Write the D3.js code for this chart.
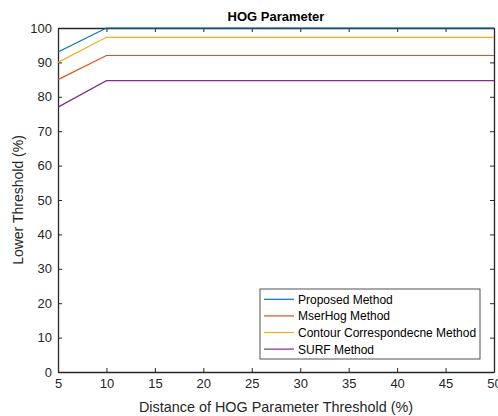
<!DOCTYPE html>
<html>
<head>
<meta charset="UTF-8">
<style>
  body { margin: 0; background: #fff; }
  text { font-family: "Liberation Sans", Arial, sans-serif; fill: #262626; }
  .axis path, .axis line { stroke: #262626; }
</style>
</head>
<body>
<svg id="chart" width="498" height="416"></svg>
<script src="https://d3js.org/d3.v7.min.js"></script>
<script>
// data
const xValues = [5, 10, 15, 20, 25, 30, 35, 40, 45, 50];
const proposed = [93, 100, 100, 100, 100, 100, 100, 100, 100, 100];
const mserHog = [85, 92, 92, 92, 92, 92, 92, 92, 92, 92];
const contour = [90, 97.3, 97.3, 97.3, 97.3, 97.3, 97.3, 97.3, 97.3, 97.3];
const surf = [77, 84.7, 84.7, 84.7, 84.7, 84.7, 84.7, 84.7, 84.7, 84.7];
const seriesNames = ["Proposed Method", "MserHog Method", "Contour Correspondecne Method", "SURF Method"];
const seriesColors = ["#0072BD", "#D95319", "#EDB120", "#7E2F8E"];
const xTicks = [5, 10, 15, 20, 25, 30, 35, 40, 45, 50];
const yTicks = [0, 10, 20, 30, 40, 50, 60, 70, 80, 90, 100];

const series = [proposed, mserHog, contour, surf];

let svg = d3.select("#chart");
let mLeft = 58, mRight = 494, mTop = 28, mBottom = 372;

let x = d3.scaleLinear().domain([5, 50]).range([mLeft, mRight]);
let y = d3.scaleLinear().domain([0, 100]).range([mBottom, mTop]);

// axes, MATLAB style with inward ticks and a box
svg.append("g").attr("class", "axis")
    .attr("transform", `translate(0,${mBottom})`)
    .call(d3.axisBottom(x).tickValues(xTicks).tickSizeInner(-4).tickSizeOuter(0).tickPadding(7))
    .call(g => g.selectAll("text").style("font-size", "13px"));
svg.append("g").attr("class", "axis")
    .attr("transform", `translate(${mLeft},0)`)
    .call(d3.axisLeft(y).tickValues(yTicks).tickSizeInner(-4).tickSizeOuter(0).tickPadding(6))
    .call(g => g.selectAll("text").style("font-size", "13px"));
svg.append("g").attr("class", "axis")
    .attr("transform", `translate(0,${mTop})`)
    .call(d3.axisTop(x).tickValues(xTicks).tickSizeInner(-4).tickSizeOuter(0).tickFormat(""));
svg.append("g").attr("class", "axis")
    .attr("transform", `translate(${mRight},0)`)
    .call(d3.axisRight(y).tickValues(yTicks).tickSizeInner(-4).tickSizeOuter(0).tickFormat(""));
svg.selectAll(".axis .domain").attr("stroke-width", 1.3);

// lines
let line = d3.line().x((d, i) => x(xValues[i])).y(d => y(d));
svg.append("g").selectAll("path")
    .data(series)
    .enter()
    .append("path")
    .attr("d", line)
    .attr("fill", "none")
    .attr("stroke", (d, i) => seriesColors[i])
    .attr("stroke-width", 1.2);

// title and labels
svg.append("text").attr("x", (mLeft + mRight) / 2).attr("y", 21)
    .attr("text-anchor", "middle").style("font-size", "13px").style("font-weight", "bold")
    .style("fill", "#000").text("HOG Parameter");
svg.append("text").attr("x", (mLeft + mRight) / 2).attr("y", 412)
    .attr("text-anchor", "middle").style("font-size", "14.4px")
    .text("Distance of HOG Parameter Threshold (%)");
svg.append("text")
    .attr("transform", `translate(23,${(mTop + mBottom) / 2}) rotate(-90)`)
    .attr("text-anchor", "middle").style("font-size", "14px")
    .text("Lower Threshold (%)");

// legend
let legend = svg.append("g");
legend.append("rect").attr("x", 260).attr("y", 289).attr("width", 220).attr("height", 70)
    .attr("fill", "#fff").attr("stroke", "#262626").attr("stroke-width", 0.8);
seriesNames.forEach((name, i) => {
    let yy = 299.3 + i * 16.6;
    legend.append("line").attr("x1", 264).attr("x2", 294).attr("y1", yy).attr("y2", yy)
        .attr("stroke", seriesColors[i]).attr("stroke-width", 1.2);
    legend.append("text").attr("x", 298).attr("y", yy + 4.5)
        .style("font-size", "12px").style("fill", "#000").text(name);
});
</script>
</body>
</html>
